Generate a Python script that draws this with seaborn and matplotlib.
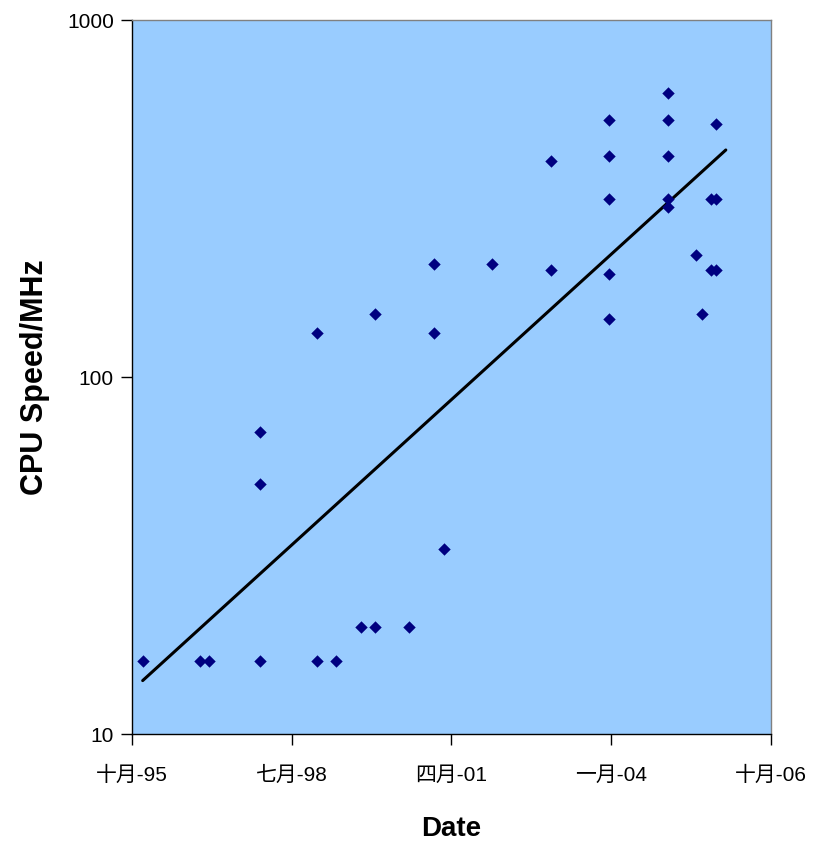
import seaborn as sns
import matplotlib.pyplot as plt
import matplotlib.dates as mdates
import matplotlib.ticker as ticker
import numpy as np
import pandas as pd

# release dates and clock speeds
dates = [
    "1995-12-07", "1996-12-02", "1997-01-30",
    "1997-12-12", "1997-12-12", "1997-12-12",
    "1998-12-09", "1998-12-09", "1999-04-06",
    "1999-09-08", "1999-12-07", "1999-12-07",
    "2000-07-08", "2000-12-14", "2000-12-14",
    "2001-02-11", "2001-12-10", "2002-12-16", "2002-12-16",
    "2003-12-15", "2003-12-15", "2003-12-15", "2003-12-15", "2003-12-15",
    "2004-12-22", "2004-12-22", "2004-12-22", "2004-12-22", "2004-12-22",
    "2005-06-16", "2005-07-22",
    "2005-09-21", "2005-09-21",
    "2005-10-22", "2005-10-22", "2005-10-22",
]
speeds = [
    16, 16, 16,
    16, 50, 70,
    16, 133, 16,
    20, 20, 150,
    20, 133, 207,
    33, 207, 200, 403,
    145, 194, 315, 416, 525,
    300, 316, 416, 525, 623,
    220, 150,
    200, 315,
    200, 315, 512,
]

tick_dates = ["1995-10-01", "1998-07-01", "2001-04-01", "2004-01-01", "2006-10-01"]
tick_labels = ["十月-95", "七月-98", "四月-01", "一月-04", "十月-06"]
trend_forward_days = 60

df = pd.DataFrame({"date": pd.to_datetime(dates), "speed": speeds})
df["x"] = mdates.date2num(df["date"])

# exponential trendline (least squares on log of speed)
slope, icpt = np.polyfit(df["x"], np.log(df["speed"]), 1)
tx = np.linspace(df["x"].min(), df["x"].max() + trend_forward_days, 200)
trend = pd.DataFrame({"x": tx, "speed": np.exp(icpt + slope * tx)})

sns.set_style("white")
plt.rcParams["font.family"] = ["Liberation Sans", "Noto Sans CJK SC", "DejaVu Sans"]
plt.rcParams["text.color"] = "black"
plt.rcParams["axes.labelcolor"] = "black"

fig = plt.figure(figsize=(8.18, 8.41), dpi=100)
ax = fig.add_axes([0.1614, 0.1272, 0.7811, 0.8490])
ax.set_facecolor("#99CCFF")

sns.lineplot(x="x", y="speed", data=trend, color="black", linewidth=2.2, ax=ax)
sns.scatterplot(x="x", y="speed", data=df, marker="D", color="#000080",
                s=40, edgecolor="#000080", linewidth=0, ax=ax, zorder=3)

ax.set_yscale("log")
ax.set_ylim(10, 1000)
ax.yaxis.set_major_locator(ticker.FixedLocator([10, 100, 1000]))
ax.yaxis.set_major_formatter(ticker.FixedFormatter(["10", "100", "1000"]))
ax.yaxis.set_minor_locator(ticker.NullLocator())

xt = mdates.date2num(pd.to_datetime(tick_dates))
ax.set_xlim(xt[0], xt[-1])
ax.set_xticks(xt)
ax.set_xticklabels(tick_labels)

ax.tick_params(axis="both", direction="out", length=8, width=1, colors="black",
               labelsize=15, bottom=True, left=True)
ax.tick_params(axis="x", pad=15)
ax.tick_params(axis="y", pad=5)

for side in ["top", "right"]:
    ax.spines[side].set_color("#808080")
for side in ["left", "bottom"]:
    ax.spines[side].set_color("black")
for s in ax.spines.values():
    s.set_linewidth(1)

ax.set_xlabel("Date", fontsize=20, fontweight="bold", labelpad=22)
ax.set_ylabel("CPU Speed/MHz", fontsize=22, fontweight="bold", labelpad=12)

plt.savefig("out.png", dpi=100)
